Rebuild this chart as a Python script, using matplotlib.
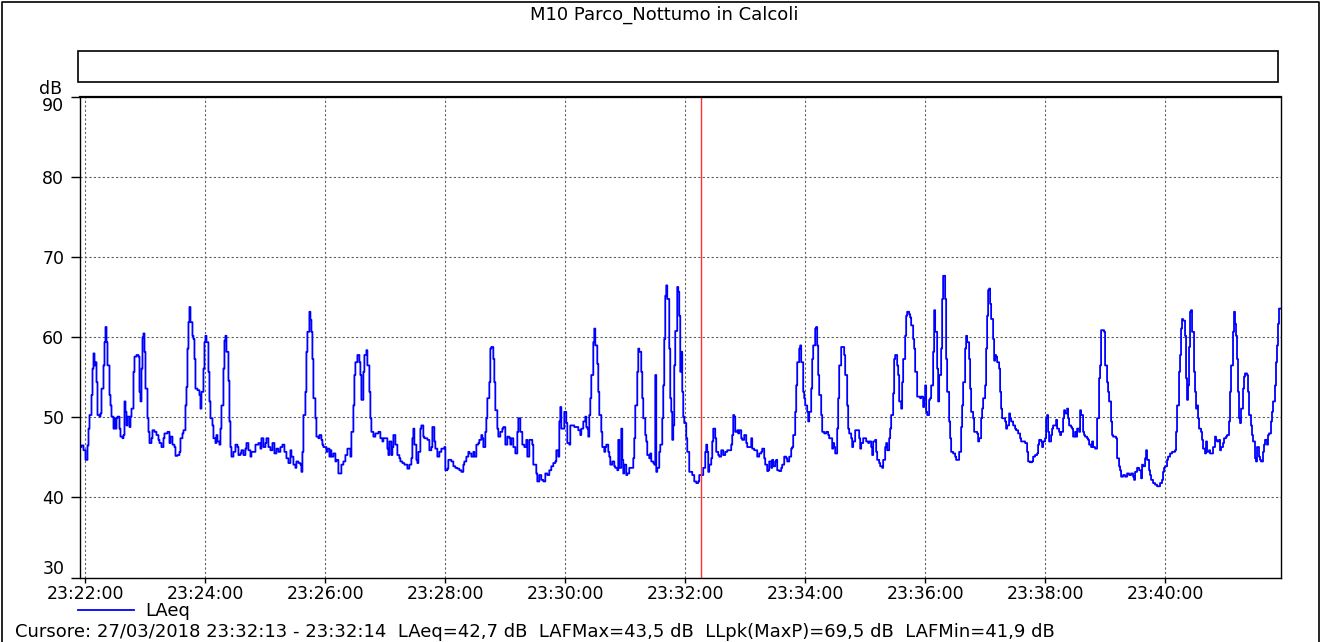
import matplotlib
matplotlib.use('Agg')
import matplotlib.pyplot as plt
import matplotlib.patches as patches
from matplotlib.lines import Line2D
from matplotlib.ticker import FuncFormatter
from datetime import datetime, timedelta

# DATA  (seconds after 23:22:00, LAeq dB)
seg1 = [(-6, 46.3), (-4, 46.5), (-2, 45.9), (0, 44.7), (2, 46.5), (3, 48.6), (4, 50.3), (6, 52.8),
        (7, 56.1), (8, 58.0), (9, 56.5), (10, 56.9), (11, 54.4), (12, 50.3), (14, 50.1), (15, 50.5),
        (16, 53.6), (18, 56.5), (19, 59.4), (20, 61.3), (21, 59.4), (22, 56.5), (24, 52.8), (25, 51.5),
        (26, 50.1), (28, 48.6), (29, 49.9), (30, 48.6), (31, 49.9), (32, 50.1), (34, 48.6), (35, 47.6),
        (37, 47.4), (38, 47.8), (39, 52.0), (40, 50.7), (41, 49.0), (42, 50.1), (44, 48.8), (45, 50.1),
        (46, 51.1), (48, 55.7), (49, 57.6), (51, 57.8), (53, 57.6), (54, 53.2), (55, 52.0), (56, 56.1),
        (57, 60.0), (58, 60.5), (59, 58.2), (60, 53.6), (62, 49.9), (63, 48.2), (64, 46.8), (66, 47.4),
        (67, 48.4), (69, 48.2), (71, 47.8), (73, 47.2), (74, 46.8), (76, 46.3), (78, 47.4), (79, 48.0),
        (82, 48.2), (84, 46.8), (85, 47.6), (87, 46.6), (89, 46.3), (90, 45.2), (92, 45.3), (94, 45.7),
        (95, 47.4), (97, 48.0), (98, 48.4), (100, 51.5), (101, 53.8), (102, 58.6), (103, 61.9), (104, 63.8),
        (105, 61.9), (107, 60.2), (108, 59.8), (109, 57.3), (110, 53.6), (112, 53.4), (114, 52.8), (115, 51.1),
        (116, 53.2), (118, 56.1), (119, 59.4), (120, 60.2), (121, 59.4), (123, 55.7), (124, 52.0), (125, 49.9),
        (127, 49.0), (128, 47.4), (130, 46.8), (131, 47.8), (132, 47.0), (134, 46.6), (135, 48.6), (136, 51.5),
        (138, 56.1), (139, 59.6)]
seg2 = [(140, 60.2), (141, 58.2), (143, 54.6), (144, 49.5), (145, 46.3), (146, 45.1), (148, 45.7), (150, 46.6),
        (152, 46.3), (153, 45.3), (155, 45.5), (156, 45.9), (158, 45.3), (160, 46.1), (161, 46.8), (163, 45.9),
        (165, 45.1), (166, 45.7), (168, 45.7), (170, 46.6), (173, 46.8), (175, 46.1), (176, 47.4), (178, 46.3),
        (180, 46.8), (181, 47.4), (183, 46.3), (185, 45.9), (187, 46.8), (189, 45.5), (191, 46.1), (193, 45.7),
        (195, 46.3), (197, 46.6), (199, 45.7), (201, 44.9), (203, 44.3), (205, 45.9), (206, 45.1), (208, 44.1),
        (210, 43.7), (211, 44.5), (213, 44.3), (215, 44.1), (216, 43.2), (217, 45.7), (218, 50.3), (220, 53.2),
        (221, 58.2), (222, 60.7), (224, 63.2), (225, 62.2), (226, 60.7), (227, 57.3), (228, 52.4), (230, 49.9),
        (231, 47.6), (233, 47.4), (234, 47.8), (236, 47.2), (237, 46.6), (238, 46.3), (240, 46.3), (241, 45.7),
        (242, 46.1), (244, 45.1), (245, 45.9), (246, 45.1), (248, 45.5), (250, 44.5), (251, 44.7), (253, 43.0),
        (255, 43.0), (256, 44.1), (258, 44.5), (260, 45.3), (262, 46.1), (264, 46.1), (265, 45.1), (266, 48.2),
        (268, 51.5), (269, 55.3), (270, 56.9), (272, 57.8), (274, 56.9), (275, 55.3), (276, 52.2), (278, 55.7),
        (279, 57.8), (281, 58.4), (282, 56.5), (284, 53.2), (285, 49.9), (286, 48.2), (288, 47.6), (290, 48.0)]
seg3 = [(292, 48.0), (293, 48.2), (295, 47.4), (297, 47.0), (298, 47.4), (300, 47.4), (302, 46.1), (303, 45.3),
        (304, 47.0), (306, 45.3), (307, 46.3), (308, 47.8), (310, 46.6), (312, 45.3), (314, 44.9), (315, 44.5),
        (317, 44.3), (319, 44.1), (322, 43.6), (324, 44.1), (326, 44.9), (327, 47.4), (328, 48.6), (329, 46.6),
        (331, 44.7), (332, 44.3), (333, 45.7), (335, 48.6), (336, 49.0), (338, 47.6), (339, 47.4), (342, 47.2),
        (344, 45.9), (346, 46.3), (347, 48.8), (349, 47.0), (350, 46.1), (352, 45.1), (354, 45.7), (356, 46.1),
        (358, 46.1), (359, 46.3), (360, 43.4), (362, 43.6), (363, 44.7), (366, 44.5), (368, 43.9), (370, 43.7),
        (372, 43.6), (374, 43.4), (376, 43.2), (378, 44.1), (379, 44.5), (381, 45.1), (383, 45.7), (384, 45.5),
        (386, 45.1), (388, 45.7), (389, 45.1), (391, 46.6), (393, 46.8), (394, 47.2), (396, 47.8), (397, 47.4),
        (398, 46.3), (400, 48.2), (401, 49.9), (402, 52.4), (404, 54.4), (405, 58.6), (406, 58.8), (408, 57.3),
        (409, 54.4), (410, 50.9), (412, 48.6), (413, 47.6), (415, 48.2), (417, 48.6), (418, 48.8), (420, 46.6),
        (422, 47.6), (424, 47.4), (425, 46.6), (426, 47.4), (428, 46.3), (430, 45.5), (432, 48.2), (433, 49.9),
        (435, 48.2), (437, 46.6), (439, 46.3), (441, 47.2), (442, 45.1)]
seg4 = [(444, 47.2), (445, 47.2), (447, 46.6), (448, 44.1), (450, 44.1), (451, 43.0), (452, 42.0), (454, 42.8),
        (456, 42.2), (458, 42.0), (460, 43.0), (462, 42.8), (464, 43.4), (466, 43.9), (468, 44.3), (470, 44.5),
        (471, 45.9), (473, 45.1), (474, 49.5), (475, 51.3), (476, 48.6), (478, 48.6), (479, 50.7), (481, 49.3),
        (482, 46.8), (484, 46.6), (485, 49.0), (487, 49.0), (489, 48.8), (491, 48.8), (493, 48.4), (495, 47.8),
        (496, 48.6), (498, 49.5), (500, 50.1), (501, 48.8), (502, 48.6), (503, 47.6), (504, 50.3), (505, 52.4),
        (506, 55.3), (508, 59.4), (509, 61.1), (510, 59.0), (512, 56.7), (513, 53.2), (514, 50.3), (516, 48.2),
        (517, 46.3), (519, 45.7), (520, 46.3), (521, 46.6), (523, 45.7), (524, 45.1), (525, 44.1), (527, 44.5),
        (529, 43.9), (530, 43.7), (532, 43.4), (533, 47.2), (534, 43.7), (536, 48.6), (537, 44.7), (538, 43.0),
        (539, 44.1), (541, 42.8), (542, 43.0), (544, 43.7), (546, 43.7), (548, 44.9), (549, 47.4), (550, 51.5),
        (552, 55.7), (553, 58.6), (554, 58.2), (556, 55.7), (557, 52.4), (558, 49.9), (560, 47.8), (561, 47.0),
        (562, 45.3), (564, 44.9), (565, 45.5), (566, 44.5), (568, 44.3), (569, 44.1), (570, 55.3), (571, 43.2),
        (572, 43.7), (574, 45.7), (575, 46.6), (577, 49.9), (578, 54.0), (579, 59.8), (580, 65.2), (581, 66.5),
        (582, 64.8), (584, 58.6), (585, 52.4), (586, 50.7), (587, 47.2), (588, 49.0), (589, 56.5), (590, 60.8),
        (592, 66.3), (593, 65.7), (594, 62.7), (595, 55.7)]
seg5 = [(596, 58.2), (597, 53.2), (598, 50.1), (599, 49.3), (601, 47.4), (602, 45.7), (604, 43.2), (606, 43.2),
        (607, 42.8), (609, 42.0), (611, 41.8), (613, 42.0), (614, 42.8), (616, 42.8), (618, 43.7), (620, 45.7),
        (621, 46.6), (622, 45.7), (623, 43.2), (624, 44.1), (626, 44.9), (627, 47.0), (628, 48.6), (630, 47.4),
        (631, 45.7), (633, 45.3), (634, 45.1), (636, 45.9), (638, 45.3), (640, 45.7), (642, 45.9), (644, 45.9),
        (646, 46.6), (647, 47.8), (648, 50.3), (649, 50.1), (650, 48.2), (652, 48.4), (653, 48.0), (654, 48.4),
        (656, 47.4), (657, 47.2), (659, 47.8), (661, 46.8), (662, 46.3), (664, 46.3), (666, 47.4), (667, 46.1),
        (669, 45.9), (671, 45.9), (672, 45.1), (674, 45.5), (676, 45.7), (677, 46.1), (679, 44.9), (680, 44.1),
        (682, 43.3), (683, 43.4), (684, 44.5), (686, 43.7), (687, 44.7), (688, 43.9), (690, 44.5), (691, 44.7),
        (692, 43.4), (694, 43.3), (696, 43.7), (697, 44.1), (699, 45.1), (701, 44.9), (702, 44.5), (704, 45.1),
        (706, 46.1), (707, 46.3), (708, 47.8), (710, 50.7), (711, 54.0), (712, 56.9), (714, 58.6), (715, 59.0),
        (716, 56.9), (718, 53.2), (719, 52.4), (720, 51.5), (722, 50.7), (723, 49.5), (724, 50.7), (726, 53.6),
        (727, 57.3), (728, 59.0), (730, 61.1), (731, 61.3), (732, 59.0), (733, 55.3), (734, 52.8), (736, 50.3),
        (737, 48.2), (739, 48.0), (741, 48.2), (743, 47.8), (744, 47.4), (746, 47.4), (747, 46.1)]
seg6 = [(748, 46.8), (749, 46.3), (750, 45.5), (752, 48.6), (753, 52.4), (754, 56.5), (756, 58.8), (758, 58.8),
        (759, 57.8), (760, 55.3), (762, 51.5), (763, 48.6), (764, 48.0), (766, 47.4), (767, 46.3), (768, 47.0),
        (770, 48.4), (772, 48.4), (774, 47.4), (775, 46.1), (776, 46.8), (778, 47.4), (779, 47.4), (781, 47.0),
        (783, 46.8), (784, 47.0), (786, 46.3), (787, 45.3), (788, 47.0), (790, 47.2), (791, 45.7), (792, 44.7),
        (794, 44.3), (795, 43.9), (797, 43.7), (798, 44.7), (800, 46.3), (801, 46.8), (802, 45.9), (804, 47.4),
        (805, 48.6), (806, 50.3), (808, 53.0), (809, 57.3), (810, 57.8), (812, 56.5), (813, 55.3), (814, 52.0),
        (816, 51.1), (817, 54.4), (818, 57.3), (820, 60.2), (821, 62.7), (822, 63.2), (824, 62.9), (825, 62.5),
        (826, 61.5), (828, 59.8), (829, 58.6), (830, 55.7), (832, 52.6), (833, 52.6), (835, 52.4), (836, 52.6),
        (838, 51.3), (839, 52.4), (840, 54.0), (841, 50.7), (842, 50.3), (844, 52.2), (845, 52.4), (846, 54.0),
        (848, 58.2), (849, 63.4), (850, 60.7), (852, 56.1), (853, 52.0), (854, 55.3), (856, 58.6), (857, 64.8),
        (858, 67.7), (860, 64.8), (861, 57.3), (862, 53.2), (864, 49.5), (865, 47.4), (866, 45.7), (868, 45.5),
        (870, 45.1), (871, 44.7), (873, 44.7), (874, 45.7), (876, 48.8), (877, 51.5), (878, 54.4), (880, 58.6),
        (881, 60.2), (882, 59.4), (884, 57.3), (885, 53.6), (886, 50.7), (888, 49.9), (889, 48.2), (890, 48.2),
        (892, 48.0), (893, 47.0), (894, 47.4), (896, 49.9), (897, 51.1), (898, 52.4), (900, 54.0)]
seg7 = [(901, 58.6), (902, 62.7), (903, 65.9), (904, 66.1), (905, 64.2), (906, 62.3), (908, 59.8), (909, 57.1),
        (910, 57.8), (911, 57.6), (912, 56.9), (914, 56.1), (915, 53.2), (916, 51.1), (917, 49.9), (918, 49.9),
        (920, 49.5), (921, 48.6), (922, 49.0), (924, 50.5), (925, 49.9), (926, 49.5), (928, 49.0), (930, 48.6),
        (931, 48.4), (933, 48.0), (935, 47.4), (936, 47.0), (938, 47.0), (940, 46.8), (942, 45.7), (943, 44.5),
        (945, 44.4), (947, 44.5), (948, 45.1), (950, 45.3), (952, 45.5), (953, 46.6), (954, 47.2), (956, 47.0),
        (957, 46.3), (958, 47.0), (960, 47.4), (961, 49.9), (962, 50.3), (963, 48.2), (964, 47.0), (966, 47.8),
        (967, 48.6), (968, 49.0), (970, 49.0), (971, 49.7), (972, 48.6), (974, 48.2), (975, 47.8), (976, 48.2),
        (978, 49.9), (979, 50.9), (980, 50.5), (982, 51.1), (983, 49.9), (984, 49.0), (986, 48.8), (987, 48.6),
        (988, 47.6), (990, 48.2), (991, 47.6), (992, 48.6), (994, 48.2), (995, 50.9), (996, 50.3), (998, 48.2),
        (999, 47.8), (1000, 47.6), (1002, 47.4), (1003, 47.2), (1004, 46.6), (1006, 46.3), (1007, 47.0), (1008, 46.3),
        (1010, 46.1), (1011, 46.1), (1012, 49.9), (1014, 54.9), (1015, 56.5), (1016, 60.9), (1018, 60.9), (1019, 60.7),
        (1020, 56.5), (1022, 54.4), (1023, 53.2), (1024, 52.0), (1026, 49.5), (1027, 47.8), (1028, 47.6), (1030, 47.6),
        (1031, 47.4), (1032, 44.9), (1034, 43.9), (1035, 43.4), (1036, 42.6), (1038, 42.8), (1040, 42.6), (1042, 43.0),
        (1044, 42.8), (1046, 43.0), (1048, 42.6), (1049, 42.2), (1050, 43.2), (1052, 43.7)]
seg8 = [(1053, 43.7), (1054, 43.4), (1056, 42.4), (1057, 44.1), (1058, 43.9), (1060, 44.9), (1061, 45.9), (1062, 44.7),
        (1064, 43.4), (1065, 42.8), (1066, 42.2), (1068, 41.8), (1070, 41.6), (1072, 41.4), (1074, 41.4), (1075, 41.8),
        (1077, 42.2), (1078, 43.2), (1079, 43.7), (1080, 43.9), (1082, 44.7), (1083, 45.1), (1085, 45.5), (1087, 45.7),
        (1088, 45.7), (1090, 45.9), (1091, 48.2), (1092, 51.5), (1094, 55.7), (1095, 57.8), (1096, 61.1), (1097, 62.3),
        (1098, 62.1), (1100, 60.2), (1101, 54.9), (1102, 52.2), (1103, 54.0), (1104, 58.8), (1105, 63.2), (1106, 63.4),
        (1107, 60.7), (1109, 55.7), (1110, 53.2), (1111, 51.1), (1112, 51.5), (1113, 49.9), (1114, 48.6), (1116, 48.2),
        (1117, 47.2), (1118, 46.1), (1120, 45.5), (1121, 47.0), (1122, 45.7), (1124, 45.9), (1125, 45.5), (1127, 45.5),
        (1128, 46.3), (1130, 47.6), (1131, 47.2), (1132, 47.0), (1134, 47.2), (1135, 45.9), (1136, 46.3), (1138, 46.8),
        (1139, 47.4), (1141, 47.6), (1142, 47.8), (1144, 49.5), (1145, 53.2), (1146, 56.5), (1148, 60.7), (1149, 63.2),
        (1150, 61.7), (1151, 60.2), (1152, 57.3), (1153, 53.2), (1154, 49.9), (1155, 49.3), (1156, 51.1), (1158, 53.6),
        (1159, 55.1), (1160, 55.5), (1162, 55.3), (1163, 53.2), (1164, 50.3), (1166, 49.0), (1167, 47.8), (1168, 47.0),
        (1170, 44.9), (1171, 44.5), (1172, 46.3), (1174, 45.1), (1175, 44.7), (1176, 44.5), (1178, 45.7), (1179, 46.6),
        (1180, 47.2), (1182, 46.6), (1183, 47.8), (1184, 48.0), (1186, 49.5), (1187, 50.7), (1188, 52.0), (1190, 54.0),
        (1191, 56.9), (1192, 59.0), (1193, 61.7), (1194, 63.6), (1196, 63.6)]

START = datetime(2018, 3, 27, 23, 22, 0)
T_RANGE = (-6, 1196)
CURSOR_T = 616
Y_TICKS = [30, 40, 50, 60, 70, 80, 90]
X_TICKS = list(range(0, 1081, 120))
TITLE = 'M10 Parco_Nottumo in Calcoli'
CURSOR_TEXT = ('Cursore: 27/03/2018 23:32:13 - 23:32:14  LAeq=42,7 dB  LAFMax=43,5 dB  '
               'LLpk(MaxP)=69,5 dB  LAFMin=41,9 dB')

points = seg1 + seg2 + seg3 + seg4 + seg5 + seg6 + seg7 + seg8
t = [p[0] for p in points]
laeq = [p[1] for p in points]

# FIGURE
W, H = 1323, 642
fig = plt.figure(figsize=(W / 100, H / 100), dpi=100)
plt.rcParams['font.family'] = ['DejaVu Sans']
FS = 12.5

ax = fig.add_axes([79.5 / W, 1 - 577.5 / H, (1281 - 79.5) / W, (577.5 - 97.3) / H])
ax.plot(t, laeq, color='#0000ff', lw=1.3, drawstyle='steps-post', label='LAeq')
ax.axvline(CURSOR_T, color='#ff3030', lw=1.0)

ax.set_xlim(*T_RANGE)
ax.set_ylim(30, 90)
ax.set_yticks(Y_TICKS)
ax.set_xticks(X_TICKS)
ax.xaxis.set_major_formatter(FuncFormatter(
    lambda s, pos: (START + timedelta(seconds=float(s))).strftime('%H:%M:%S')))
ax.grid(True, color='#606060', lw=0.8, linestyle=(0, (2, 2)))
ax.tick_params(axis='y', length=6.5, width=1, pad=4.5, labelsize=FS, direction='out')
ax.tick_params(axis='x', length=3.5, width=1, pad=2, labelsize=FS, direction='out')
for s in ax.spines.values():
    s.set_color('black')
    s.set_linewidth(1.0)
ax.spines['top'].set_linewidth(1.6)
ylabels = ax.get_yticklabels()
ylabels[-1].set_verticalalignment('top')     # 90 sits under the tick
ylabels[0].set_verticalalignment('bottom')   # 30 sits above the tick

fig.text(62 / W, 1 - 89 / H, 'dB', ha='right', va='center', fontsize=FS)
fig.text(664 / W, 1 - 15 / H, TITLE, ha='center', va='center', fontsize=13)
fig.text(15 / W, 1 - 632 / H, CURSOR_TEXT, ha='left', va='center', fontsize=13)

# empty box under the title and the outer frame (left, top, right)
fig.add_artist(patches.Rectangle((78 / W, 1 - 81.7 / H), 1200 / W, 31 / H,
                                 transform=fig.transFigure, fill=False, lw=1.2, ec='black'))
fig.add_artist(Line2D([1.5 / W, 1.5 / W, 1319 / W, 1319 / W], [0, 1 - 2 / H, 1 - 2 / H, 0],
                      transform=fig.transFigure, color='black', lw=1.2))

fig.legend(loc='center left', bbox_to_anchor=(78 / W, 1 - 611 / H), frameon=False,
           fontsize=13, handlelength=3.1, handletextpad=0.6, borderpad=0, borderaxespad=0)

plt.savefig('out.png', dpi=100)
